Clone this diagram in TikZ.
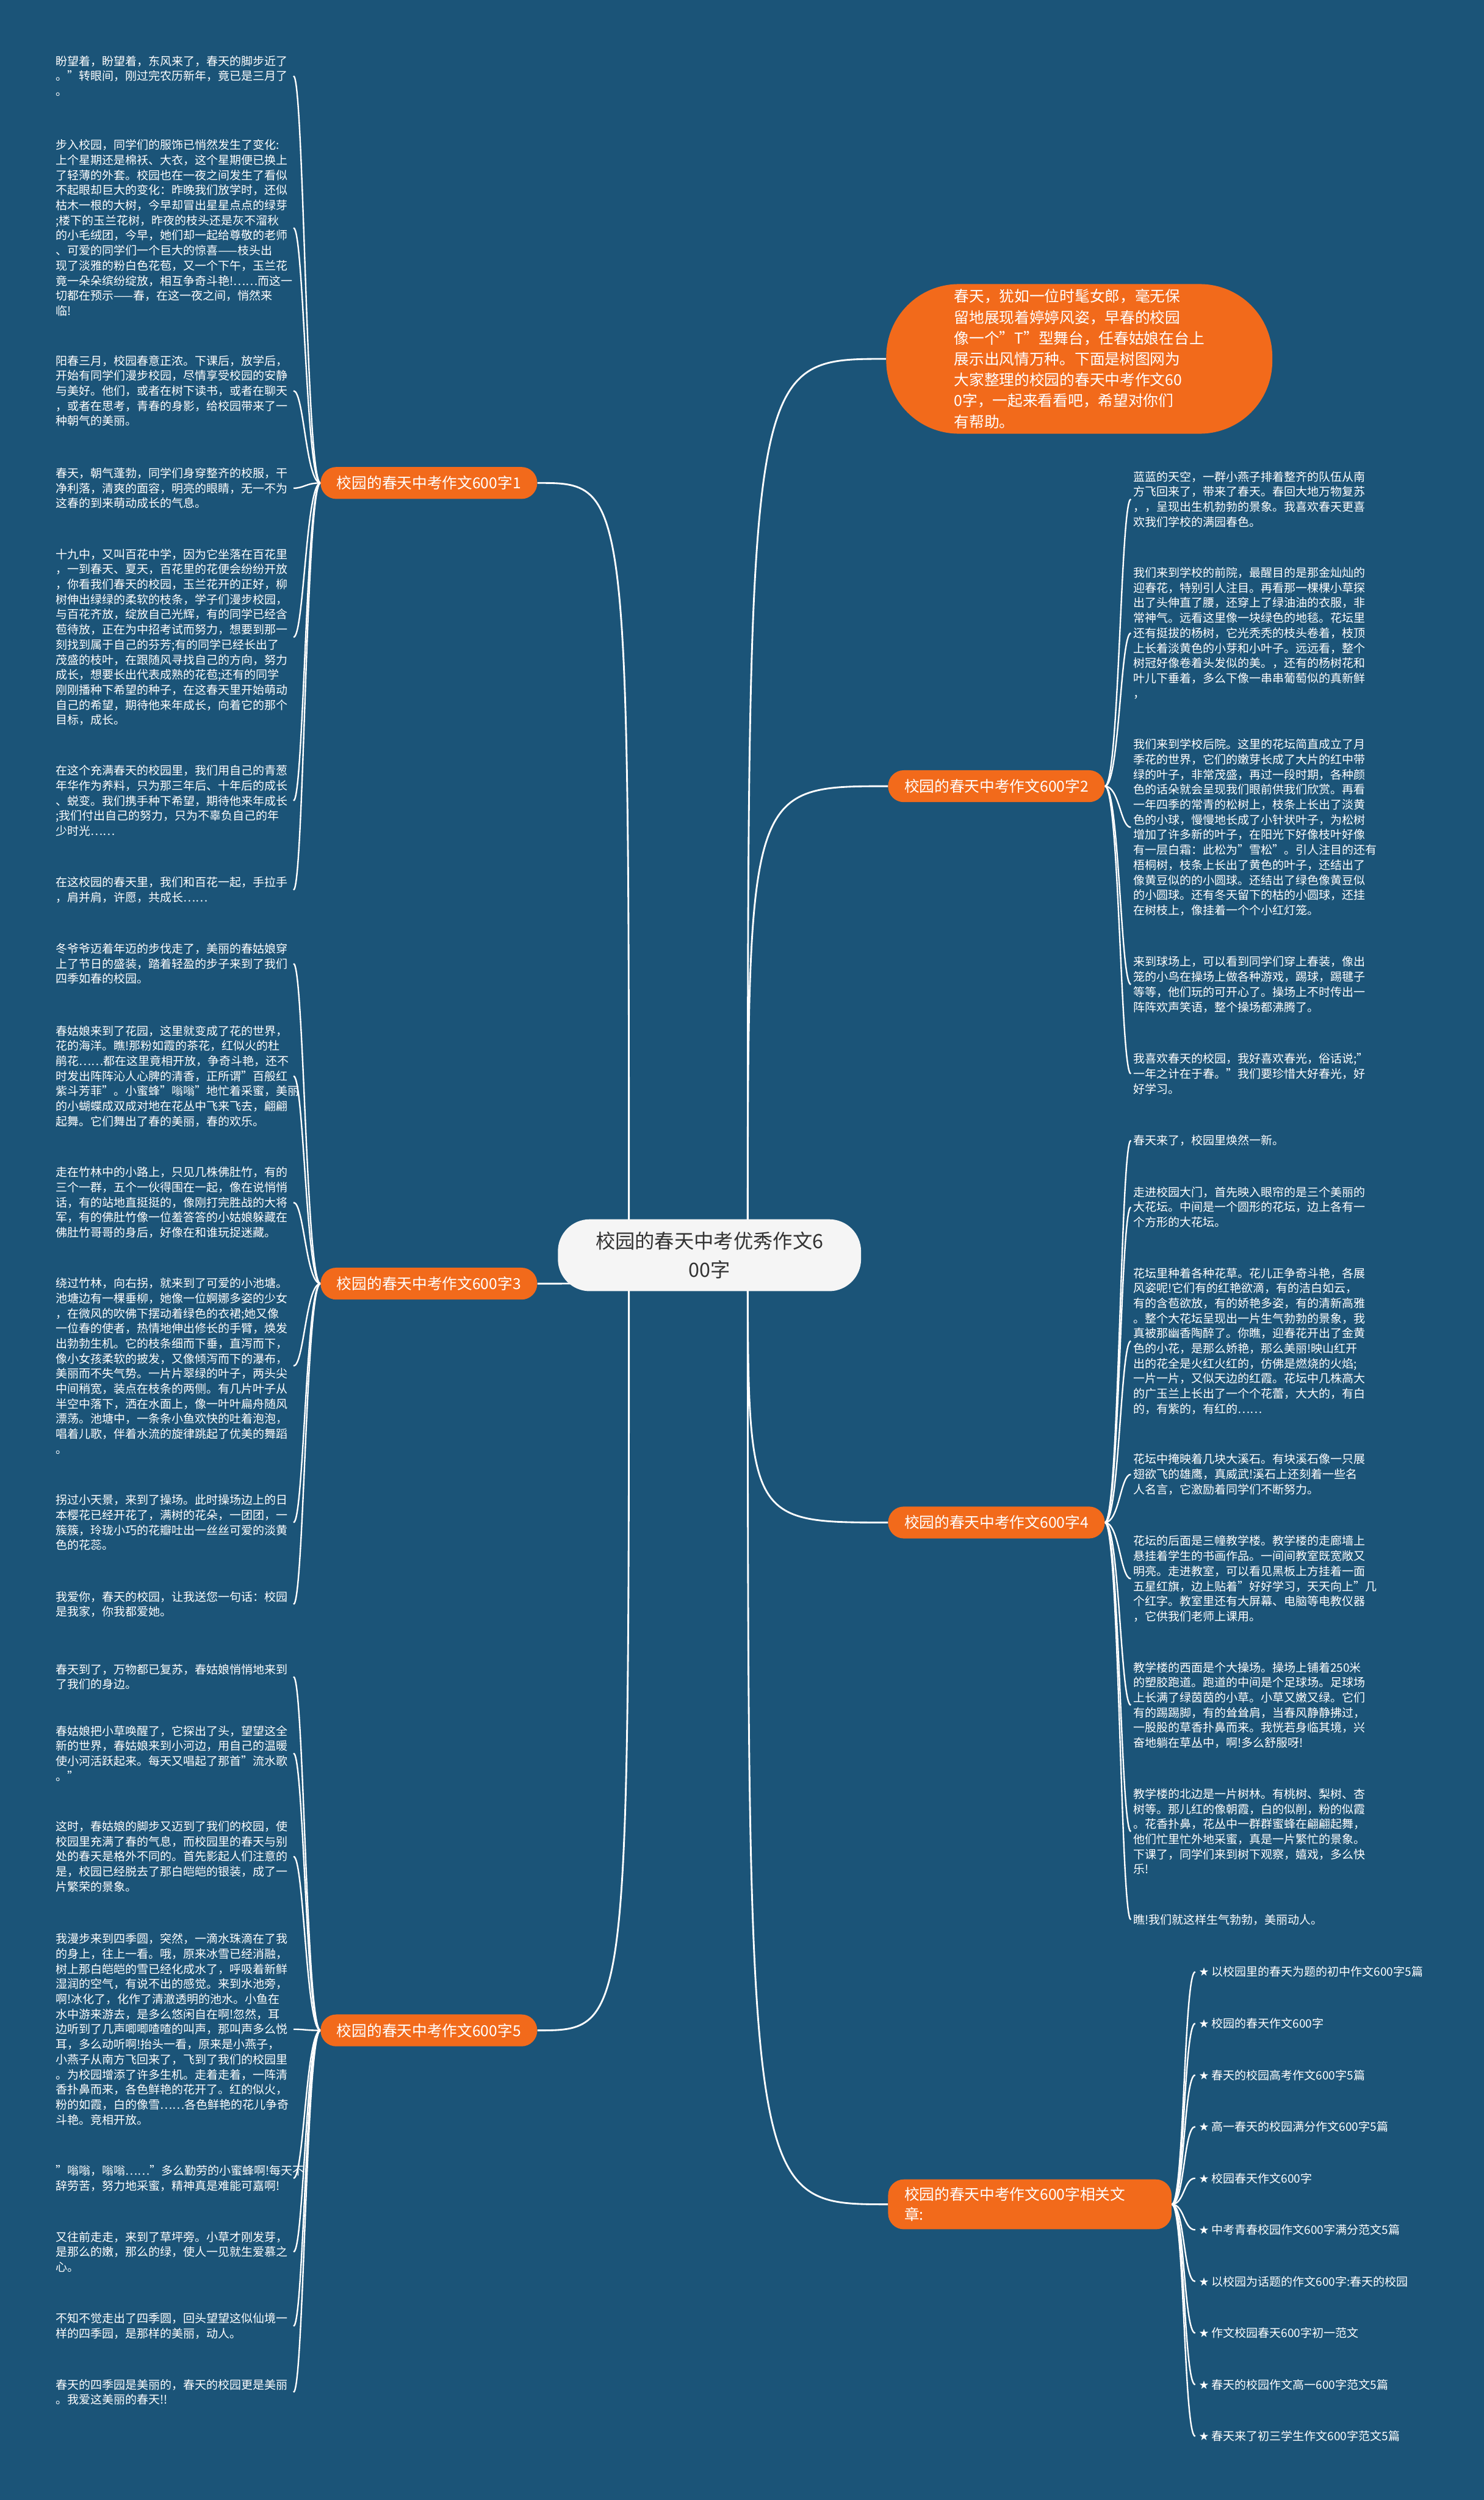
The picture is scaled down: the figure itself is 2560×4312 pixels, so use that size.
\documentclass[tikz,border=0pt]{standalone}
\usepackage{fontspec}
\setmainfont{Noto Sans CJK SC}
\newfontfamily\symfont{DejaVu Sans}
\usepackage{tikz}
\definecolor{MapBg}{RGB}{27,84,120}
\definecolor{MapOrange}{RGB}{242,106,27}
\definecolor{MapCenter}{RGB}{245,245,245}
\definecolor{MapText}{RGB}{51,51,51}
\pgfdeclarelayer{back}
\pgfsetlayers{back,main}
\begin{document}
\begin{tikzpicture}[x=1pt,y=-1pt,
  leaf/.style={anchor=west,text width=410pt,align=left,inner sep=0pt,text=white,font=\fontsize{20}{26}\selectfont},
  item/.style={anchor=west,inner sep=0pt,text=white,font=\fontsize{20}{26}\selectfont},
  branch/.style={fill=MapOrange,text=white,rounded corners=27pt,inner xsep=28pt,minimum height=55pt,font=\fontsize{26}{34}\selectfont},
  link/.style={draw=white,line width=2.5pt},
  trunk/.style={draw=white,line width=3pt}]
\useasboundingbox (0,0) rectangle (2560,4312);
\node[fill=MapCenter,text=MapText,rounded corners=55pt,minimum width=523pt,minimum height=124pt,align=center,font=\fontsize{34}{49}\selectfont] (root) at (1224,2165) {校园的春天中考优秀作文6\\00字};
\node[fill=MapOrange,text=white,rounded corners=125pt,minimum width=666pt,minimum height=258pt,inner sep=0pt,align=left,font=\fontsize{26}{36}\selectfont] (intro) at (1862,619) {春天，犹如一位时髦女郎，毫无保\\留地展现着婷婷风姿，早春的校园\\像一个"T"型舞台，任春姑娘在台上\\展示出风情万种。下面是树图网为\\大家整理的校园的春天中考作文60\\0字，一起来看看吧，希望对你们\\有帮助。};
\coordinate (cl) at (1085,2164);
\coordinate (cr) at (1290,2164);
% branches
\node[branch,anchor=east] (b1) at (927,833) {校园的春天中考作文600字1};
\node[branch,anchor=west] (b2) at (1532,1356) {校园的春天中考作文600字2};
\node[branch,anchor=east] (b3) at (927,2214) {校园的春天中考作文600字3};
\node[branch,anchor=west] (b4) at (1532,2626) {校园的春天中考作文600字4};
\node[branch,anchor=east] (b5) at (927,3502) {校园的春天中考作文600字5};
\node[branch,anchor=west,text width=433pt,align=left,minimum height=86pt] (b6) at (1532,3802) {校园的春天中考作文600字相关文\\章:};
% left texts
\node[leaf] (t1a) at (96,131) {盼望着，盼望着，东风来了，春天的脚步近了\\。"转眼间，刚过完农历新年，竟已是三月了\\。};
\node[leaf] (t1b) at (96,393) {步入校园，同学们的服饰已悄然发生了变化:\\上个星期还是棉袄、大衣，这个星期便已换上\\了轻薄的外套。校园也在一夜之间发生了看似\\不起眼却巨大的变化：昨晚我们放学时，还似\\枯木一根的大树，今早却冒出星星点点的绿芽\\;楼下的玉兰花树，昨夜的枝头还是灰不溜秋\\的小毛绒团，今早，她们却一起给尊敬的老师\\、可爱的同学们一个巨大的惊喜——枝头出\\现了淡雅的粉白色花苞，又一个下午，玉兰花\\竟一朵朵缤纷绽放，相互争奇斗艳!……而这一\\切都在预示——春，在这一夜之间，悄然来\\临!};
\node[leaf] (t1c) at (96,674) {阳春三月，校园春意正浓。下课后，放学后，\\开始有同学们漫步校园，尽情享受校园的安静\\与美好。他们，或者在树下读书，或者在聊天\\，或者在思考，青春的身影，给校园带来了一\\种朝气的美丽。};
\node[leaf] (t1d) at (96,842) {春天，朝气蓬勃，同学们身穿整齐的校服，干\\净利落，清爽的面容，明亮的眼睛，无一不为\\这春的到来萌动成长的气息。};
\node[leaf] (t1e) at (96,1099) {十九中，又叫百花中学，因为它坐落在百花里\\，一到春天、夏天，百花里的花便会纷纷开放\\，你看我们春天的校园，玉兰花开的正好，柳\\树伸出绿绿的柔软的枝条，学子们漫步校园，\\与百花齐放，绽放自己光辉，有的同学已经含\\苞待放，正在为中招考试而努力，想要到那一\\刻找到属于自己的芬芳;有的同学已经长出了\\茂盛的枝叶，在跟随风寻找自己的方向，努力\\成长，想要长出代表成熟的花苞;还有的同学\\刚刚播种下希望的种子，在这春天里开始萌动\\自己的希望，期待他来年成长，向着它的那个\\目标，成长。};
\node[leaf] (t1f) at (96,1381) {在这个充满春天的校园里，我们用自己的青葱\\年华作为养料，只为那三年后、十年后的成长\\、蜕变。我们携手种下希望，期待他来年成长\\;我们付出自己的努力，只为不辜负自己的年\\少时光……};
\node[leaf] (t1g) at (96,1535) {在这校园的春天里，我们和百花一起，手拉手\\，肩并肩，许愿，共成长……};
\node[leaf] (t3a) at (96,1662) {冬爷爷迈着年迈的步伐走了，美丽的春姑娘穿\\上了节日的盛装，踏着轻盈的步子来到了我们\\四季如春的校园。};
\node[leaf] (t3b) at (96,1856) {春姑娘来到了花园，这里就变成了花的世界，\\花的海洋。瞧!那粉如霞的茶花，红似火的杜\\鹃花……都在这里竟相开放，争奇斗艳，还不\\时发出阵阵沁人心脾的清香，正所谓"百般红\\紫斗芳菲"。小蜜蜂"嗡嗡"地忙着采蜜，美丽\\的小蝴蝶成双成对地在花丛中飞来飞去，翩翩\\起舞。它们舞出了春的美丽，春的欢乐。};
\node[leaf] (t3c) at (96,2074) {走在竹林中的小路上，只见几株佛肚竹，有的\\三个一群，五个一伙得围在一起，像在说悄悄\\话，有的站地直挺挺的，像刚打完胜战的大将\\军，有的佛肚竹像一位羞答答的小姑娘躲藏在\\佛肚竹哥哥的身后，好像在和谁玩捉迷藏。};
\node[leaf] (t3d) at (96,2356) {绕过竹林，向右拐，就来到了可爱的小池塘。\\池塘边有一棵垂柳，她像一位婀娜多姿的少女\\，在微风的吹佛下摆动着绿色的衣裙;她又像\\一位春的使者，热情地伸出修长的手臂，焕发\\出勃勃生机。它的枝条细而下垂，直泻而下，\\像小女孩柔软的披发，又像倾泻而下的瀑布，\\美丽而不失气势。一片片翠绿的叶子，两头尖\\中间稍宽，装点在枝条的两侧。有几片叶子从\\半空中落下，洒在水面上，像一叶叶扁舟随风\\漂荡。池塘中，一条条小鱼欢快的吐着泡泡，\\唱着儿歌，伴着水流的旋律跳起了优美的舞蹈\\。};
\node[leaf] (t3e) at (96,2626) {拐过小天景，来到了操场。此时操场边上的日\\本樱花已经开花了，满树的花朵，一团团，一\\簇簇，玲珑小巧的花瓣吐出一丝丝可爱的淡黄\\色的花蕊。};
\node[leaf] (t3f) at (96,2767) {我爱你，春天的校园，让我送您一句话：校园\\是我家，你我都爱她。};
\node[leaf] (t5a) at (96,2892) {春天到了，万物都已复苏，春姑娘悄悄地来到\\了我们的身边。};
\node[leaf] (t5b) at (96,3024) {春姑娘把小草唤醒了，它探出了头，望望这全\\新的世界，春姑娘来到小河边，用自己的温暖\\使小河活跃起来。每天又唱起了那首"流水歌\\。"};
\node[leaf] (t5c) at (96,3202) {这时，春姑娘的脚步又迈到了我们的校园，使\\校园里充满了春的气息，而校园里的春天与别\\处的春天是格外不同的。首先影起人们注意的\\是，校园已经脱去了那白皑皑的银装，成了一\\片繁荣的景象。};
\node[leaf] (t5d) at (96,3500) {我漫步来到四季圆，突然，一滴水珠滴在了我\\的身上，往上一看。哦，原来冰雪已经消融，\\树上那白皑皑的雪已经化成水了，呼吸着新鲜\\湿润的空气，有说不出的感觉。来到水池旁，\\啊!冰化了，化作了清澈透明的池水。小鱼在\\水中游来游去，是多么悠闲自在啊!忽然，耳\\边听到了几声唧唧喳喳的叫声，那叫声多么悦\\耳，多么动听啊!抬头一看，原来是小燕子，\\小燕子从南方飞回来了，飞到了我们的校园里\\。为校园增添了许多生机。走着走着，一阵清\\香扑鼻而来，各色鲜艳的花开了。红的似火，\\粉的如霞，白的像雪……各色鲜艳的花儿争奇\\斗艳。竞相开放。};
\node[leaf] (t5e) at (96,3757) {"嗡嗡，嗡嗡……"多么勤劳的小蜜蜂啊!每天不\\辞劳苦，努力地采蜜，精神真是难能可嘉啊!};
\node[leaf] (t5f) at (96,3884) {又往前走走，来到了草坪旁。小草才刚发芽，\\是那么的嫩，那么的绿，使人一见就生爱慕之\\心。};
\node[leaf] (t5g) at (96,4012) {不知不觉走出了四季圆，回头望望这似仙境一\\样的四季园，是那样的美丽，动人。};
\node[leaf] (t5h) at (96,4126) {春天的四季园是美丽的，春天的校园更是美丽\\。我爱这美丽的春天!!};
% right texts
\node[leaf] (t2a) at (1955,861) {蓝蓝的天空，一群小燕子排着整齐的队伍从南\\方飞回来了，带来了春天。春回大地万物复苏\\，，呈现出生机勃勃的景象。我喜欢春天更喜\\欢我们学校的满园春色。};
\node[leaf] (t2b) at (1955,1092) {我们来到学校的前院，最醒目的是那金灿灿的\\迎春花，特别引人注目。再看那一棵棵小草探\\出了头伸直了腰，还穿上了绿油油的衣服，非\\常神气。远看这里像一块绿色的地毯。花坛里\\还有挺拔的杨树，它光秃秃的枝头卷着，枝顶\\上长着淡黄色的小芽和小叶子。远远看，整个\\树冠好像卷着头发似的美。，还有的杨树花和\\叶儿下垂着，多么下像一串串葡萄似的真新鲜\\，};
\node[leaf] (t2c) at (1955,1427) {我们来到学校后院。这里的花坛简直成立了月\\季花的世界，它们的嫩芽长成了大片的红中带\\绿的叶子，非常茂盛，再过一段时期，各种颜\\色的话朵就会呈现我们眼前供我们欣赏。再看\\一年四季的常青的松树上，枝条上长出了淡黄\\色的小球，慢慢地长成了小针状叶子，为松树\\增加了许多新的叶子，在阳光下好像枝叶好像\\有一层白霜：此松为"雪松"。引人注目的还有\\梧桐树，枝条上长出了黄色的叶子，还结出了\\像黄豆似的的小圆球。还结出了绿色像黄豆似\\的小圆球。还有冬天留下的枯的小圆球，还挂\\在树枝上，像挂着一个个小红灯笼。};
\node[leaf] (t2d) at (1955,1698) {来到球场上，可以看到同学们穿上春装，像出\\笼的小鸟在操场上做各种游戏，踢球，踢毽子\\等等，他们玩的可开心了。操场上不时传出一\\阵阵欢声笑语，整个操场都沸腾了。};
\node[leaf] (t2e) at (1955,1852) {我喜欢春天的校园，我好喜欢春光，俗话说;"\\一年之计在于春。"我们要珍惜大好春光，好\\好学习。};
\node[leaf] (t4a) at (1955,1967) {春天来了，校园里焕然一新。};
\node[leaf] (t4b) at (1955,2082) {走进校园大门，首先映入眼帘的是三个美丽的\\大花坛。中间是一个圆形的花坛，边上各有一\\个方形的大花坛。};
\node[leaf] (t4c) at (1955,2313) {花坛里种着各种花草。花儿正争奇斗艳，各展\\风姿呢!它们有的红艳欲滴，有的洁白如云，\\有的含苞欲放，有的娇艳多姿，有的清新高雅\\。整个大花坛呈现出一片生气勃勃的景象，我\\真被那幽香陶醉了。你瞧，迎春花开出了金黄\\色的小花，是那么娇艳，那么美丽!映山红开\\出的花全是火红火红的，仿佛是燃烧的火焰;\\一片一片，又似天边的红霞。花坛中几株高大\\的广玉兰上长出了一个个花蕾，大大的，有白\\的，有紫的，有红的……};
\node[leaf] (t4d) at (1955,2543) {花坛中掩映着几块大溪石。有块溪石像一只展\\翅欲飞的雄鹰，真威武!溪石上还刻着一些名\\人名言，它激励着同学们不断努力。};
\node[leaf] (t4e) at (1955,2723) {花坛的后面是三幢教学楼。教学楼的走廊墙上\\悬挂着学生的书画作品。一间间教室既宽敞又\\明亮。走进教室，可以看见黑板上方挂着一面\\五星红旗，边上贴着"好好学习，天天向上"几\\个红字。教室里还有大屏幕、电脑等电教仪器\\，它供我们老师上课用。};
\node[leaf] (t4f) at (1955,2941) {教学楼的西面是个大操场。操场上铺着250米\\的塑胶跑道。跑道的中间是个足球场。足球场\\上长满了绿茵茵的小草。小草又嫩又绿。它们\\有的踢踢脚，有的耸耸肩，当春风静静拂过，\\一股股的草香扑鼻而来。我恍若身临其境，兴\\奋地躺在草丛中，啊!多么舒服呀!};
\node[leaf] (t4g) at (1955,3159) {教学楼的北边是一片树林。有桃树、梨树、杏\\树等。那儿红的像朝霞，白的似削，粉的似霞\\。花香扑鼻，花丛中一群群蜜蜂在翩翩起舞，\\他们忙里忙外地采蜜，真是一片繁忙的景象。\\下课了，同学们来到树下观察，嬉戏，多么快\\乐!};
\node[leaf] (t4h) at (1955,3311) {瞧!我们就这样生气勃勃，美丽动人。};
% related articles
\foreach \i/\t in {0/以校园里的春天为题的初中作文600字5篇,1/校园的春天作文600字,2/春天的校园高考作文600字5篇,3/高一春天的校园满分作文600字5篇,4/校园春天作文600字,5/中考青春校园作文600字满分范文5篇,6/以校园为话题的作文600字:春天的校园,7/作文校园春天600字初一范文,8/春天的校园作文高一600字范文5篇,9/春天来了初三学生作文600字范文5篇} {
   \node[item] (k\i) at (2068,3401+89*\i) {{\symfont ★} \t};
}
\begin{pgfonlayer}{back}
\fill[MapBg] (0,0) rectangle (2560,4312);
\draw[trunk] (cr) .. controls (cr |- intro) .. (intro.west);
\foreach \b in {b1,b3,b5} {
   \draw[trunk] (cl) .. controls (cl |- \b) .. (\b.east);
}
\foreach \b in {b2,b4,b6} {
   \draw[trunk] (cr) .. controls (cr |- \b) .. (\b.west);
}
\foreach \b/\l in {b1/t1a,b1/t1b,b1/t1c,b1/t1d,b1/t1e,b1/t1f,b1/t1g,b3/t3a,b3/t3b,b3/t3c,b3/t3d,b3/t3e,b3/t3f,b5/t5a,b5/t5b,b5/t5c,b5/t5d,b5/t5e,b5/t5f,b5/t5g,b5/t5h} {
   \draw[link] (\b.west) .. controls +(-25,0) and +(18,0) .. (\l.east);
}
\foreach \b/\l in {b2/t2a,b2/t2b,b2/t2c,b2/t2d,b2/t2e,b4/t4a,b4/t4b,b4/t4c,b4/t4d,b4/t4e,b4/t4f,b4/t4g,b4/t4h} {
   \draw[link] (\b.east) .. controls +(25,0) and +(-18,0) .. ([xshift=-4pt]\l.west);
}
\foreach \i in {0,...,9} {
   \draw[link] (b6.east) .. controls +(22,0) and +(-20,0) .. ([xshift=-6pt]k\i.west);
}
\end{pgfonlayer}
\end{tikzpicture}
\end{document}
